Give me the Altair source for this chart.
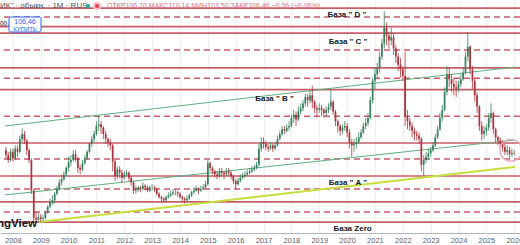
import altair as alt
import pandas as pd

# ---- monthly candles, Oct 2007 .. Jan 2026 (prices) ----
start_year = 2007
start_month = 10
first_open = 110

closes = [
    104, 98, 108,                                                   # 2007 Q4
    100, 112, 108, 124, 130, 122, 110, 98, 60, 26, 24, 27,           # 2008
    25, 26, 33, 40, 46, 48, 56, 62, 70, 74, 80, 88,                  # 2009
    95, 98, 105, 100, 88, 86, 94, 100, 108, 118, 124, 130,           # 2010
    140, 142, 138, 130, 124, 120, 116, 96, 78, 86, 82, 76,           # 2011
    80, 82, 76, 70, 60, 62, 64, 62, 66, 64, 60, 64,                  # 2012
    64, 62, 56, 52, 50, 48, 52, 54, 56, 58, 58, 56,                  # 2013
    52, 50, 48, 50, 54, 58, 60, 62, 60, 62, 64, 68,                  # 2014
    94, 88, 84, 80, 78, 84, 82, 80, 84, 82, 78, 72,                  # 2015
    68, 72, 76, 78, 80, 82, 84, 86, 88, 92, 112, 120,                # 2016
    118, 114, 112, 116, 112, 116, 124, 130, 136, 134, 138, 140,      # 2017
    150, 154, 148, 158, 162, 168, 176, 172, 178, 170, 162, 160,      # 2018
    162, 160, 156, 160, 164, 170, 158, 146, 140, 134, 138, 140,      # 2019
    132, 120, 116, 118, 120, 126, 132, 140, 144, 150, 172, 196,      # 2020
    204, 212, 226, 242, 262, 252, 246, 250, 236, 226, 216, 210,      # 2021
    202, 152, 146, 140, 134, 130, 128, 124, 92, 98, 102, 106,        # 2022
    110, 116, 126, 136, 150, 160, 182, 204, 198, 192, 188, 186,      # 2023
    192, 198, 206, 226, 238, 210, 196, 178, 164, 140, 130, 134,      # 2024
    138, 150, 156, 136, 126, 122, 118, 114, 108, 110, 105, 106.70,   # 2025
    106.46,                                                          # 2026
]
highs = [
    114, 108, 112,
    112, 116, 116, 128, 137, 134, 124, 112, 100, 62, 34, 32,
    31, 30, 35, 42, 50, 54, 58, 66, 74, 80, 84, 90,
    102, 104, 110, 110, 102, 92, 98, 104, 110, 120, 128, 134,
    146, 152, 146, 140, 134, 126, 124, 118, 98, 90, 90, 86,
    84, 86, 84, 78, 72, 66, 66, 66, 70, 68, 66, 66,
    68, 66, 64, 58, 54, 52, 54, 58, 60, 62, 62, 60,
    58, 54, 52, 54, 56, 60, 64, 66, 64, 66, 68, 72,
    98, 96, 90, 86, 84, 88, 88, 84, 88, 88, 84, 80,
    74, 76, 80, 82, 84, 86, 88, 90, 92, 96, 118, 126,
    126, 122, 118, 120, 118, 120, 128, 134, 140, 140, 142, 146,
    154, 160, 158, 164, 168, 172, 180, 180, 184, 190, 172, 166,
    168, 166, 162, 164, 168, 185, 172, 160, 148, 142, 142, 146,
    144, 136, 124, 124, 126, 132, 136, 144, 150, 156, 176, 200,
    212, 218, 232, 248, 282, 268, 256, 262, 254, 240, 230, 224,
    214, 232, 160, 150, 144, 138, 134, 132, 126, 104, 108, 112,
    114, 120, 130, 140, 156, 166, 188, 214, 212, 204, 200, 196,
    196, 204, 212, 232, 256, 240, 214, 200, 182, 166, 146, 140,
    142, 156, 168, 158, 138, 128, 126, 122, 118, 116, 114, 112,
    110.14,
]
lows = [
    100, 94, 96,
    96, 98, 102, 106, 120, 118, 104, 94, 56, 22, 20, 22,
    21, 22, 24, 31, 38, 42, 44, 54, 60, 66, 72, 78,
    84, 90, 96, 96, 82, 80, 84, 92, 98, 106, 114, 120,
    128, 134, 130, 124, 118, 114, 110, 84, 72, 74, 76, 70,
    74, 78, 72, 66, 56, 56, 58, 58, 60, 60, 58, 58,
    60, 58, 54, 50, 46, 46, 46, 50, 52, 54, 54, 52,
    50, 46, 44, 46, 48, 52, 56, 58, 56, 58, 60, 62,
    66, 84, 80, 76, 74, 76, 78, 74, 78, 78, 74, 68,
    62, 66, 70, 74, 76, 78, 80, 82, 84, 86, 90, 108,
    112, 110, 108, 110, 108, 110, 114, 122, 128, 130, 132, 134,
    138, 144, 140, 146, 154, 158, 164, 164, 168, 162, 156, 152,
    156, 152, 150, 152, 156, 160, 154, 140, 132, 128, 130, 134,
    126, 112, 102, 108, 112, 118, 124, 130, 136, 140, 148, 168,
    186, 198, 206, 222, 236, 240, 236, 240, 228, 218, 208, 200,
    196, 140, 136, 134, 126, 122, 122, 118, 84, 78, 94, 98,
    102, 108, 114, 124, 134, 146, 158, 178, 188, 182, 178, 176,
    182, 188, 196, 204, 220, 204, 186, 170, 156, 134, 122, 124,
    128, 134, 144, 130, 120, 116, 112, 108, 104, 104, 100, 102,
    103.50,
]

# horizontal levels
levels_solid = [286, 263, 255, 212, 185, 119, 78, 46, 21]
levels_dashed = [275, 234, 199, 152, 99, 62, 33.5]

# trend lines (time in fractional years, price)
upper_t = [2007.718, 2026.028]
upper_p = [140, 213]
lower_t = [2007.718, 2026.028]
lower_p = [54.6, 122.7]
yellow_t = [2008.951, 2026.028]
yellow_p = [21.2, 89.3]

# base labels
base_labels = ['База " D "', 'База " C "', 'База " B "', 'База " A "', 'База Zero']
base_t = [2019.30, 2019.34, 2016.70, 2019.34, 2019.51]
base_p = [277.4, 244, 173.4, 69.5, 12.5]

years = list(range(2008, 2027))

# ---- build tables ----
n = len(closes)
t = [start_year + (start_month - 1 + i) / 12 for i in range(n)]
opens = [first_open] + closes[:-1]
dirs = ["up" if c >= o else "down" for o, c in zip(opens, closes)]
candles = pd.DataFrame({"t": t, "o": opens, "h": highs, "l": lows, "c": closes, "d": dirs})

xsc = alt.Scale(domain=[2007.718, 2026.028], nice=False, zero=False)
ysc = alt.Scale(domain=[7.5, 296], nice=False, zero=False)
xaxis = alt.Axis(values=years, format="d", title=None, labelFontSize=7.5, labelColor="#5d606b",
                 labelFont="Liberation Sans", grid=True, gridColor="#eef0f4", gridWidth=1,
                 domainColor="#b2b5be", ticks=False, labelPadding=3, labelFlush=False,
                 labelOverlap=False)


def X(f):
    return alt.X(f, type="quantitative", scale=xsc, axis=xaxis)


def Y(f):
    return alt.Y(f, type="quantitative", scale=ysc, axis=None)


color = alt.Color("d:N", scale=alt.Scale(domain=["up", "down"], range=["#35805a", "#ad323b"]), legend=None)

solid = alt.Chart(pd.DataFrame({"p": levels_solid})).mark_rule(
    color="#c65e68", strokeWidth=1.6).encode(y=Y("p"))
dashed = alt.Chart(pd.DataFrame({"p": levels_dashed})).mark_rule(
    color="#c65e68", strokeWidth=1.5, strokeDash=[6, 4]).encode(y=Y("p"))

up_line = alt.Chart(pd.DataFrame({"t": upper_t, "p": upper_p})).mark_line(
    color="#5fae80", strokeWidth=1).encode(x=X("t"), y=Y("p"))
lo_line = alt.Chart(pd.DataFrame({"t": lower_t, "p": lower_p})).mark_line(
    color="#5fae80", strokeWidth=1).encode(x=X("t"), y=Y("p"))
ye_line = alt.Chart(pd.DataFrame({"t": yellow_t, "p": yellow_p})).mark_line(
    color="#c6dd3c", strokeWidth=2).encode(x=X("t"), y=Y("p"))

base = alt.Chart(candles)
wicks = base.mark_rule(strokeWidth=0.8).encode(x=X("t"), y=Y("l"), y2="h", color=color)
bodies = base.mark_bar(size=1.7).encode(x=X("t"), y=Y("o"), y2="c", color=color)

circle = alt.Chart(pd.DataFrame({"t": [2025.88], "p": [110]})).mark_point(
    shape="circle", size=480, filled=False, stroke="#e9a6bf", strokeWidth=1.2, opacity=1
).encode(x=X("t"), y=Y("p"))

labels = alt.Chart(pd.DataFrame({"t": base_t, "p": base_p, "s": base_labels})).mark_text(
    align="left", baseline="middle", fontSize=8, fontWeight="bold", color="#131722",
    font="Liberation Sans").encode(x=X("t"), y=Y("p"), text="s:N")

one = pd.DataFrame({"k": [0]})
hdr1 = alt.Chart(one).mark_text(align="left", baseline="middle", fontSize=8, color="#50535e",
                                font="Liberation Sans", text='ИК" · обыкн. · 1М · RUS').encode(
    x=alt.value(0), y=alt.value(6))
dot_g = alt.Chart(one).mark_point(filled=True, size=18, color="#22ab94", opacity=1).encode(
    x=alt.value(88), y=alt.value(6))
halo = alt.Chart(one).mark_point(filled=True, size=75, color="#f8c6cc", opacity=1).encode(
    x=alt.value(97), y=alt.value(6))
dot_r = alt.Chart(one).mark_point(filled=True, size=18, color="#f23645", opacity=1).encode(
    x=alt.value(97), y=alt.value(6))
hdr2 = alt.Chart(one).mark_text(align="left", baseline="middle", fontSize=7, color="#e0737b",
                                font="Liberation Sans",
                                text="ОТКР106,70 МАКС110,14 МИН103,50 ЗАКР106,46 −0,06 (−0,06%)").encode(
    x=alt.value(107), y=alt.value(6))
box = alt.Chart(one).mark_rect(fill="white", stroke="#2962ff", strokeWidth=1, cornerRadius=2).encode(
    x=alt.value(9), x2=alt.value(41), y=alt.value(17), y2=alt.value(32))
box_t1 = alt.Chart(one).mark_text(align="center", baseline="middle", fontSize=7, color="#2962ff",
                                  font="Liberation Sans", text="106,46").encode(
    x=alt.value(25), y=alt.value(21.5))
box_t2 = alt.Chart(one).mark_text(align="center", baseline="middle", fontSize=6, color="#2962ff",
                                  font="Liberation Sans", text="КУПИТЬ").encode(
    x=alt.value(25), y=alt.value(28.5))
left_t = alt.Chart(one).mark_text(align="left", baseline="middle", fontSize=6.5, color="#131722",
                                  font="Liberation Sans", text="00.").encode(
    x=alt.value(0), y=alt.value(24))
logo = alt.Chart(one).mark_text(align="right", baseline="middle", fontSize=11.5, fontWeight="bold",
                                color="#131722", font="Liberation Sans", text="TradingView").encode(
    x=alt.value(37), y=alt.value(224))

chart = alt.layer(
    solid, dashed, up_line, lo_line, ye_line, wicks, bodies, circle, labels,
    hdr1, halo, dot_g, dot_r, hdr2, box, box_t1, box_t2, left_t, logo
).properties(
    width=520, height=233,
    padding={"left": 0, "right": 0, "top": 0, "bottom": 12},
    autosize=alt.AutoSizeParams(type="none"),
    background="white",
).configure_view(stroke=None)

chart.save("out.html", embed_options={"renderer": "svg", "actions": False})
